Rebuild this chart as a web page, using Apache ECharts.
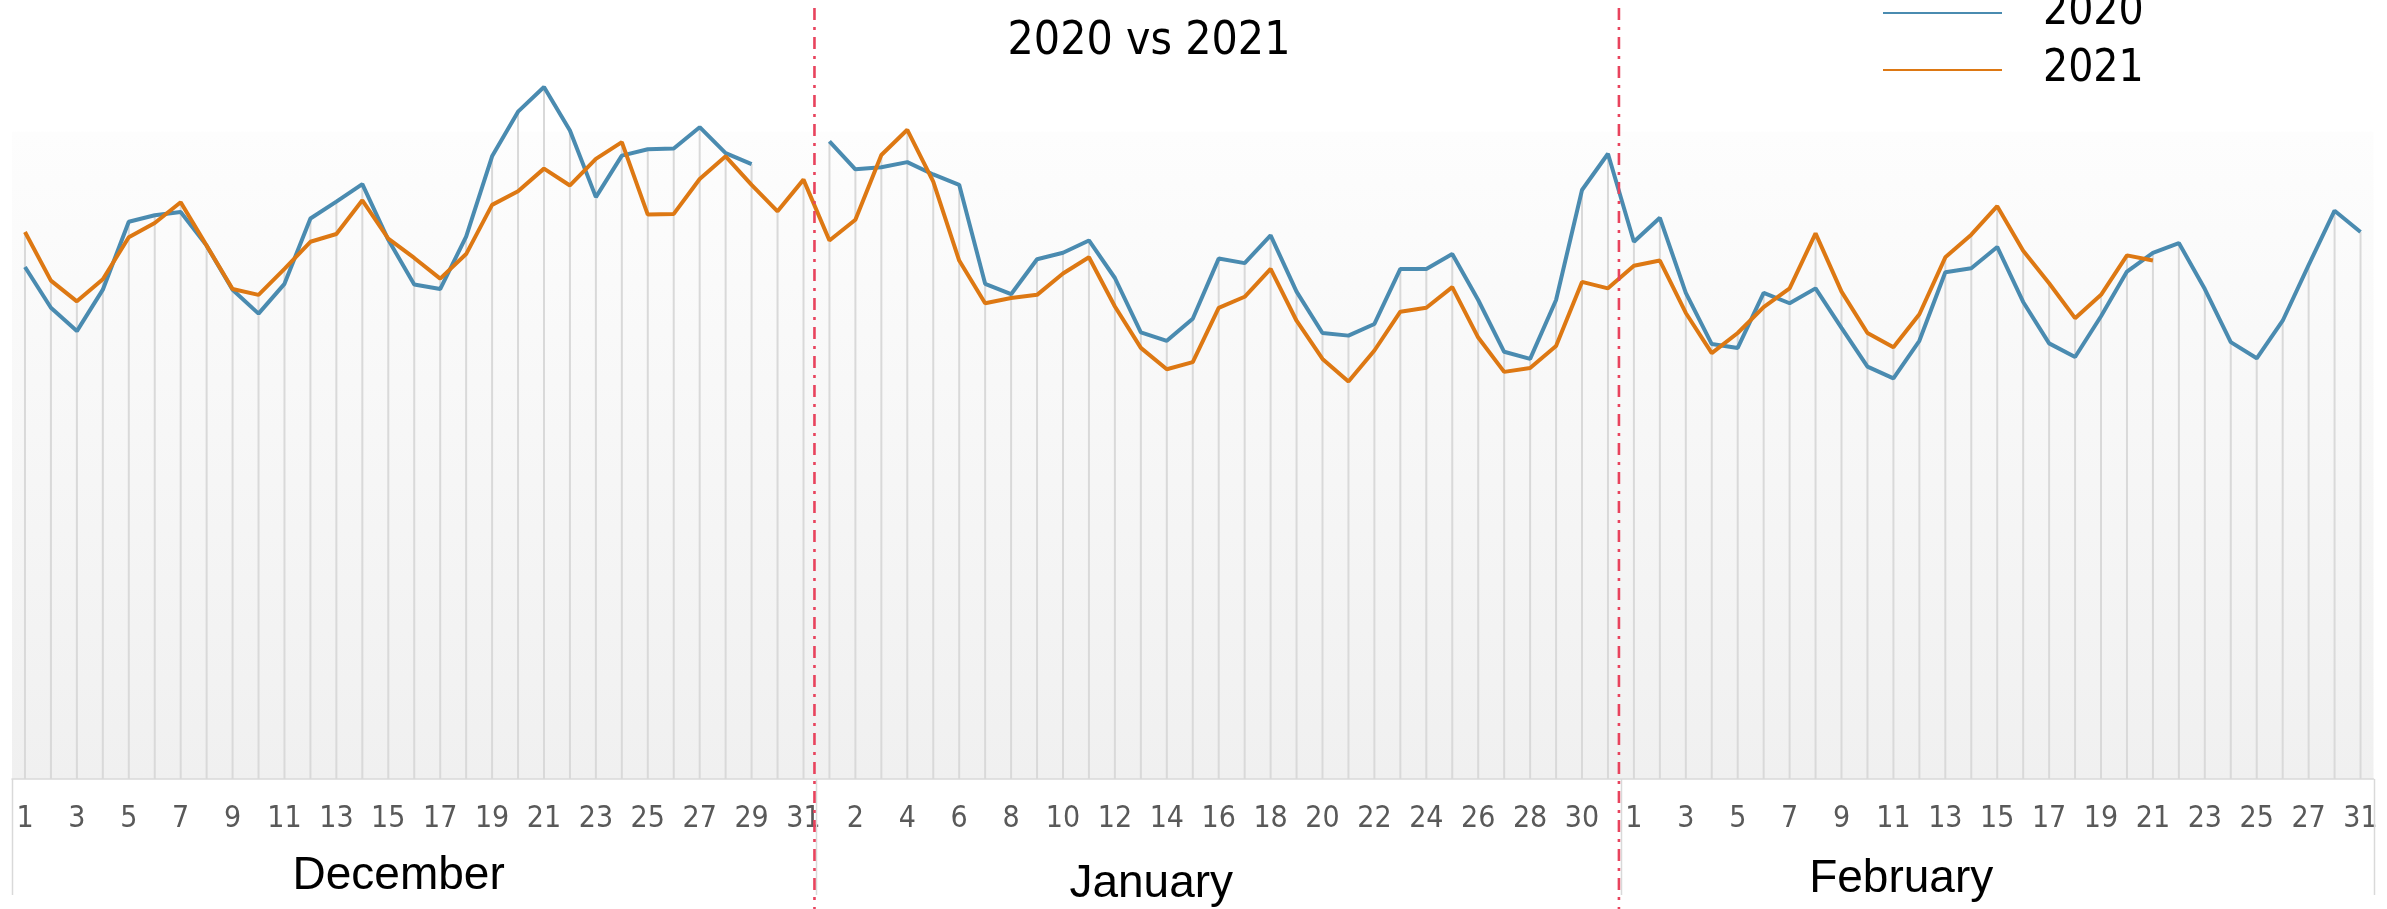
<!DOCTYPE html>
<html>
<head>
<meta charset="utf-8">
<title>2020 vs 2021</title>
<script src="https://cdn.jsdelivr.net/npm/echarts@6.0.0/dist/echarts.min.js"></script>
<style>
  html, body { margin: 0; padding: 0; background: #ffffff; }
  #chart { width: 2387px; height: 909px; }
</style>
</head>
<body>
<div id="chart"></div>
<script>
// Day labels for each month (one category per day, shown every other day)
const decDays = ['1','2','3','4','5','6','7','8','9','10','11','12','13','14','15','16','17','18','19','20','21','22','23','24','25','26','27','28','29','30','31'];
const janDays = ['1','2','3','4','5','6','7','8','9','10','11','12','13','14','15','16','17','18','19','20','21','22','23','24','25','26','27','28','29','30','31'];
const febDays = ['1','2','3','4','5','6','7','8','9','10','11','12','13','14','15','16','17','18','19','20','21','22','23','24','25','26','27','28','31'];
const monthNames = ['December', 'January', 'February'];

// Daily values, December -> February
const values2020 = [
  791, 728, 692, 756, 861, 871, 876, 824, 756, 719, 765, 866, 892, 919, 833, 764, 757, 838, 962, 1031,
  1069, 1002, 899, 963, 973, 974, 1007, 967, 950, null, null,
  985, 942, 945, 953, 934, 918, 765, 749, 803, 813, 832, 774, 690, 677, 711, 804, 797, 840, 753, 689,
  685, 703, 788, 788, 811, 740, 660, 649, 740, 910, 966,
  830, 867, 751, 672, 666, 751, 735, 758, 697, 637, 619, 677, 783, 789, 822, 737, 673, 652, 715, 784,
  813, 828, 757, 675, 650, 708, 794, 878, 845
];
const values2021 = [
  845, 770, 738, 772, 837, 859, 891, 824, 757, 748, 788, 830, 842, 894, 835, 805, 773, 811, 887, 908,
  943, 917, 958, 984, 872, 873, 927, 962, 918, 877, 926,
  832, 864, 964, 1003, 923, 801, 735, 743, 748, 781, 806, 730, 666, 633, 644, 728, 745, 788, 708, 649,
  614, 662, 722, 728, 760, 682, 629, 635, 669, 768, 758,
  793, 801, 720, 658, 689, 729, 758, 843, 753, 689, 667, 718, 806, 841, 885, 816, 766, 712, 748, 809,
  801, null, null, null, null, null, null, null, null
];

// Styling
const BLUE = '#4a8bb0';
const ORANGE = '#dd7813';
const RED = '#e8435d';
const GRID_GRAY = '#d9d9d9';
const NARROW = "'Liberation Sans Narrow', 'DejaVu Sans Condensed', 'Liberation Sans', sans-serif";
const REGULAR = "'Liberation Sans', Arial, sans-serif";
// where each month name sits (in category units) and its vertical centre
const monthLabelAt = [14.4, 43.4, 72.3];
const monthLabelY = [876, 884, 879];

// unique category keys; the axis shows only the day part
const monthKeys = ['Dec', 'Jan', 'Feb'];
const categories = []
  .concat(decDays.map(d => monthKeys[0] + ' ' + d))
  .concat(janDays.map(d => monthKeys[1] + ' ' + d))
  .concat(febDays.map(d => monthKeys[2] + ' ' + d));

// drop lines reach from the higher of the two series down to the axis
const dropLines = values2020.map((v, i) => {
  const w = values2021[i];
  if (v == null) return w;
  if (w == null) return v;
  return Math.max(v, w);
});

const chart = echarts.init(document.getElementById('chart'), null, { renderer: 'canvas' });

const option = {
  animation: false,
  backgroundColor: '#ffffff',
  title: {
    text: '2020 vs 2021',
    left: 1144,
    top: 14,
    textAlign: 'center',
    textStyle: { fontFamily: NARROW, fontSize: 46, fontWeight: 'normal', color: '#000000' }
  },
  legend: {
    data: ['2020', '2021'],
    orient: 'vertical',
    left: 1883,
    top: -9,
    padding: 0,
    itemGap: 13,
    itemWidth: 119,
    itemHeight: 2,
    icon: 'rect',
    textStyle: {
      fontFamily: NARROW, fontSize: 44, lineHeight: 44, color: '#000000',
      padding: [0, 0, 0, 36]
    }
  },
  grid: {
    left: 12,
    right: 13.5,
    top: 67,
    bottom: 130,
    show: true,
    borderWidth: 0,
    backgroundColor: {
      type: 'linear', x: 0, y: 0, x2: 0, y2: 1,
      colorStops: [
        { offset: 0, color: '#ffffff' },
        { offset: 0.09, color: '#ffffff' },
        { offset: 0.092, color: '#fdfdfd' },
        { offset: 1, color: '#f0f0f0' }
      ]
    }
  },
  xAxis: {
    type: 'category',
    data: categories,
    boundaryGap: true,
    axisTick: { show: false },
    axisLine: { show: true, lineStyle: { color: GRID_GRAY, width: 1.5 } },
    splitLine: { show: false },
    axisLabel: {
      interval: 1,
      margin: 25,
      fontFamily: NARROW,
      fontSize: 30,
      color: '#595959',
      formatter: v => v.split(' ')[1]
    }
  },
  yAxis: {
    type: 'value',
    min: 0,
    max: 1100,
    show: false,
    splitLine: { show: false }
  },
  series: [
    {
      name: 'drop',
      type: 'bar',
      data: dropLines,
      barWidth: 2,
      silent: true,
      z: 1,
      itemStyle: { color: GRID_GRAY }
    },
    {
      name: '2020',
      type: 'line',
      data: values2020,
      color: BLUE,
      symbol: 'none',
      z: 3,
      lineStyle: { width: 4, color: BLUE }
    },
    {
      name: '2021',
      type: 'line',
      data: values2021,
      color: ORANGE,
      symbol: 'none',
      z: 4,
      lineStyle: { width: 4, color: ORANGE }
    }
  ]
};

chart.setOption(option);

// month separators, label box and month names, placed through the category axis
const x0 = chart.convertToPixel({ xAxisIndex: 0 }, 0);
const step = chart.convertToPixel({ xAxisIndex: 0 }, 1) - x0;
const xAt = t => x0 + t * step;
const axisY = chart.convertToPixel({ yAxisIndex: 0 }, 0);
const boxBottom = 895;

const total = categories.length;
const boundaries = [decDays.length - 0.5, decDays.length + janDays.length - 0.5];
const boxEdges = [-0.5].concat(boundaries).concat([total - 0.5]);

const graphics = [];
boxEdges.forEach(t => {
  const x = Math.round(xAt(t)) + 0.5;
  graphics.push({
    type: 'line', z: 5, silent: true,
    shape: { x1: x, y1: axisY, x2: x, y2: boxBottom },
    style: { stroke: GRID_GRAY, lineWidth: 1.5 }
  });
});
boundaries.forEach(t => {
  const x = xAt(t) - 2;
  graphics.push({
    type: 'line', z: 50, silent: true,
    shape: { x1: x, y1: 8, x2: x, y2: 909 },
    style: { stroke: RED, lineWidth: 2.6, lineDash: [12, 7, 3, 7] }
  });
});
monthNames.forEach((name, i) => {
  graphics.push({
    type: 'text', z: 20, silent: true,
    x: xAt(monthLabelAt[i]),
    y: monthLabelY[i],
    style: {
      text: name, fill: '#000000', font: '46px ' + REGULAR,
      align: 'center', verticalAlign: 'middle'
    }
  });
});

chart.setOption({ graphic: graphics });
</script>
</body>
</html>
